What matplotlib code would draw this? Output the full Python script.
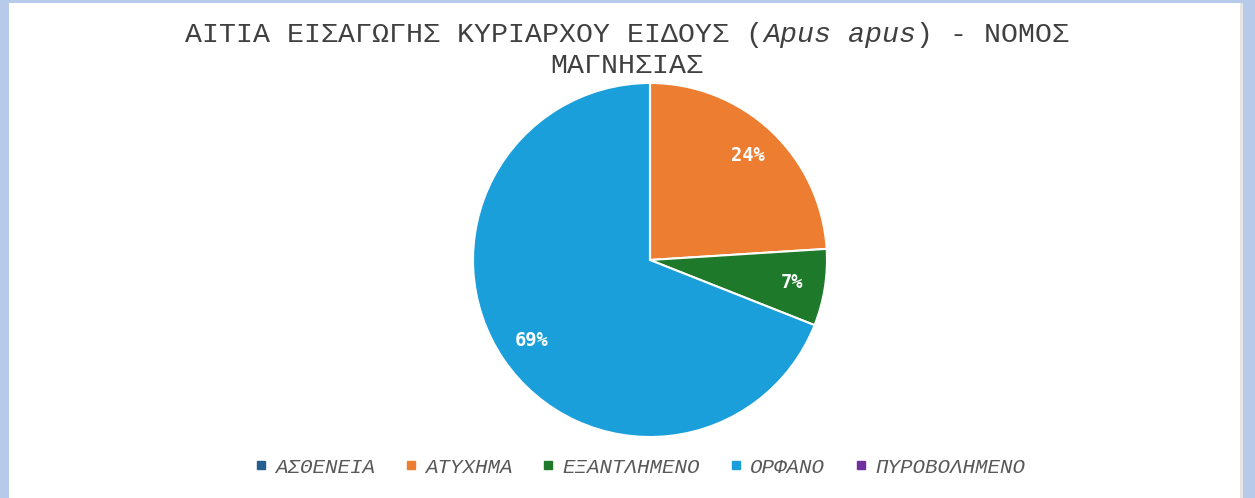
import matplotlib.pyplot as plt
from matplotlib.patches import Rectangle
from matplotlib.lines import Line2D

# data (percent)
labels = ['ΑΣΘΕΝΕΙΑ', 'ΑΤΥΧΗΜΑ', 'ΕΞΑΝΤΛΗΜΕΝΟ', 'ΟΡΦΑΝΟ', 'ΠΥΡΟΒΟΛΗΜΕΝΟ']
values = [0, 24, 7, 69, 0]
colors = ['#255E91', '#ED7D31', '#1E7A2A', '#1A9FDA', '#7030A0']

mono = 'Liberation Mono'

fig = plt.figure(figsize=(12.55, 4.98), dpi=100)
fig.patch.set_facecolor('#B7CAE9')
fig.patches.append(Rectangle((9/1255, 0), 1234/1255, 495/498, transform=fig.transFigure,
                             facecolor='white', edgecolor='none', zorder=-5))
fig.patches.append(Rectangle((1240/1255, 0), 3/1255, 495/498, transform=fig.transFigure,
                             facecolor='#E4E4E4', edgecolor='none', zorder=-5))

ax = fig.add_axes([473/1255, 61/498, 354/1255, 354/498])
ax.patch.set_alpha(0)


def pct_label(p):
    return '%d%%' % round(p) if p >= 1 else ''


wedges, texts, autotexts = ax.pie(values, colors=colors, startangle=90, counterclock=False,
                                  autopct=pct_label, pctdistance=0.81,
                                  wedgeprops=dict(edgecolor='white', linewidth=1.5),
                                  textprops=dict(family='DejaVu Sans Mono', fontsize=13.5,
                                                 fontweight='bold', color='white'))
ax.set_xlim(-1, 1)
ax.set_ylim(-1, 1)
ax.set_aspect('equal')

# title, first line has the italic species name in the middle
tcol = '#404040'
tsize = 20.3
t1 = fig.text(185/1255, 1 - 35/498, 'ΑΙΤΙΑ ΕΙΣΑΓΩΓΗΣ ΚΥΡΙΑΡΧΟΥ ΕΙΔΟΥΣ (', family=mono,
              fontsize=tsize, color=tcol, va='center', ha='left')
t2 = fig.text(0, 0, 'Apus apus', family=mono, fontsize=tsize, color=tcol, style='italic',
              va='center', ha='left')
t3 = fig.text(0, 0, ') - ΝΟΜΟΣ', family=mono, fontsize=tsize, color=tcol, va='center', ha='left')
fig.canvas.draw()
r = fig.canvas.get_renderer()
bb = t1.get_window_extent(r)
t2.set_position((bb.x1 / fig.bbox.width, 1 - 35/498))
fig.canvas.draw()
bb = t2.get_window_extent(r)
t3.set_position((bb.x1 / fig.bbox.width, 1 - 35/498))
fig.text(627/1255, 1 - 66/498, 'ΜΑΓΝΗΣΙΑΣ', family=mono, fontsize=tsize, color=tcol,
         va='center', ha='center')

handles = [Line2D([], [], marker='s', linestyle='none', markersize=6, color=c) for c in colors]
fig.legend(handles, labels, loc='center', bbox_to_anchor=(640/1255, 1 - 467/498), ncol=5,
           frameon=False, prop=dict(family=mono, size=15, style='italic'),
           labelcolor='#595959', handlelength=0.6, handletextpad=0.4, columnspacing=1.4)

fig.savefig('out.png', dpi=100, facecolor=fig.get_facecolor())
